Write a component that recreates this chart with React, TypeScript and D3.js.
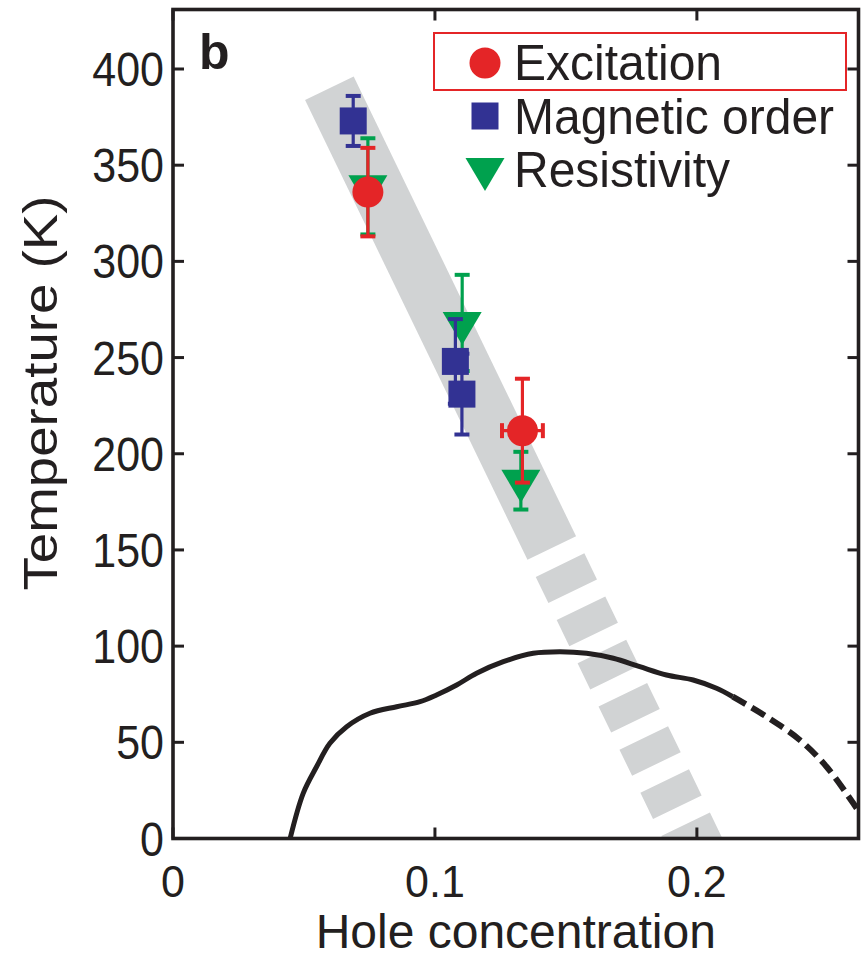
import React from "react";
import * as d3 from "d3";

// ---- data ----
const xTicks = [0, 0.1, 0.2];
const xTickLabels = ["0", "0.1", "0.2"];
const yTicks = [0, 50, 100, 150, 200, 250, 300, 350, 400];

// Magnetic order (blue squares)
const magX = [0.0688, 0.1078, 0.1103];
const magT = [373, 248, 231];
const magErr = [13, 22, 21];

// Resistivity (green triangles)
const resX = [0.0744, 0.1104, 0.1328];
const resT = [339, 268, 186];
const resErr = [25, 25, 15];

// Excitation (red circles)
const excX = [0.0744, 0.1334];
const excT = [336, 212];
const excErr = [23, 27];
const excXErr = [0, 0.0078];

// Tc dome (solid part, then dashed extrapolation)
const domeX = [0.0447, 0.0497, 0.0548, 0.0599, 0.0663, 0.0752, 0.0854, 0.0943, 0.1006, 0.1083, 0.1159, 0.1261, 0.1375, 0.1477, 0.1579, 0.1681, 0.1782, 0.1884, 0.1986, 0.2075, 0.2137];
const domeT = [0, 23.5, 37.3, 49.5, 58.1, 65.1, 68.5, 71.1, 74.6, 79.8, 85.9, 91.9, 96.3, 97.1, 96.3, 93.7, 89.3, 85.0, 82.4, 78.1, 73.7];
const domeDashX = [0.2137, 0.2266, 0.2393, 0.2495, 0.2597, 0.2625];
const domeDashT = [73.7, 63.3, 51.2, 37.3, 18.3, 12.5];

// Grey guide band (solid part, dashed part)
const bandSolidX = [0.0597, 0.1446];
const bandSolidT = [390, 151];
const bandDashX = [0.1446, 0.209];
const bandDashT = [151, -30];

const legendLabels = ["Excitation", "Magnetic order", "Resistivity"];

// ---- style ----
const W = 862;
const H = 959;
const L = 173, R = 858.5, T = 9.5, B = 838.5;
const RED = "#e42527";
const BLUE = "#323293";
const GREEN = "#00a14e";
const GREY = "#d1d3d4";
const INK = "#231f20";
const FONT = "'Liberation Sans', Arial, Helvetica, sans-serif";

export default function App() {
  const x = d3.scaleLinear().domain([0, 0.2617]).range([L, R]);
  const y = d3.scaleLinear().domain([0, 400]).range([B, 69]);

  const line = d3
    .line<[number, number]>()
    .x((d) => x(d[0]))
    .y((d) => y(d[1]));
  const smooth = d3
    .line<[number, number]>()
    .x((d) => x(d[0]))
    .y((d) => y(d[1]))
    .curve(d3.curveCatmullRom.alpha(0.5));

  const zip = (a: number[], b: number[]) => a.map((v, i) => [v, b[i]] as [number, number]);

  const tickLen = 11;
  const capW = 15;

  const errV = (cx: number, cy: number, e: number, color: string, key: string) => {
    const y1 = y(cy + e), y2 = y(cy - e), px = x(cx);
    return (
      <g key={key} stroke={color} strokeWidth={3.2}>
        <line x1={px} x2={px} y1={y1} y2={y2} />
        <line x1={px - capW / 2} x2={px + capW / 2} y1={y1} y2={y1} strokeWidth={4} />
        <line x1={px - capW / 2} x2={px + capW / 2} y1={y2} y2={y2} strokeWidth={4} />
      </g>
    );
  };
  const errH = (cx: number, cy: number, e: number, color: string, key: string) => {
    if (!e) return null;
    const x1 = x(cx - e), x2 = x(cx + e), py = y(cy);
    return (
      <g key={key} stroke={color} strokeWidth={3.2}>
        <line x1={x1} x2={x2} y1={py} y2={py} />
        <line x1={x1} x2={x1} y1={py - capW / 2} y2={py + capW / 2} strokeWidth={4} />
        <line x1={x2} x2={x2} y1={py - capW / 2} y2={py + capW / 2} strokeWidth={4} />
      </g>
    );
  };

  const triW = 39, triH = 33;
  const tri = (px: number, py: number) =>
    `M${px - triW / 2},${py - triH / 3}L${px + triW / 2},${py - triH / 3}L${px},${py + (2 * triH) / 3}Z`;

  const sq = 27;
  const rc = 15.5;

  return (
    <svg
      width={W}
      height={H}
      viewBox={`0 0 ${W} ${H}`}
      style={{ position: "absolute", left: 0, top: 0, background: "#fff" }}
      fontFamily={FONT}
    >
      <defs>
        <clipPath id="plot">
          <rect x={L} y={T} width={R - L} height={B - T} />
        </clipPath>
      </defs>

      <g clipPath="url(#plot)">
        {/* grey band */}
        <path d={line(zip(bandSolidX, bandSolidT)) || ""} stroke={GREY} strokeWidth={54} fill="none" strokeLinecap="butt" />
        <path
          d={line(zip(bandDashX, bandDashT)) || ""}
          stroke={GREY}
          strokeWidth={54}
          fill="none"
          strokeLinecap="butt"
          strokeDasharray="29 19"
          strokeDashoffset={29}
        />
        {/* Tc dome */}
        <path d={smooth(zip(domeX, domeT)) || ""} stroke={INK} strokeWidth={5} fill="none" />
        <path d={smooth(zip(domeDashX, domeDashT)) || ""} stroke={INK} strokeWidth={6} fill="none" strokeDasharray="15 7" />
      </g>

      {/* resistivity */}
      {resX.map((v, i) => errV(v, resT[i], resErr[i], GREEN, "re" + i))}
      {resX.map((v, i) => (
        <path key={"rm" + i} d={tri(x(v), y(resT[i]))} fill={GREEN} />
      ))}
      {/* magnetic order */}
      {magX.map((v, i) => errV(v, magT[i], magErr[i], BLUE, "me" + i))}
      {magX.map((v, i) => (
        <rect key={"mm" + i} x={x(v) - sq / 2} y={y(magT[i]) - sq / 2} width={sq} height={sq} fill={BLUE} />
      ))}
      {/* excitation */}
      {excX.map((v, i) => errV(v, excT[i], excErr[i], RED, "ee" + i))}
      {excX.map((v, i) => errH(v, excT[i], excXErr[i], RED, "eh" + i))}
      {excX.map((v, i) => (
        <circle key={"em" + i} cx={x(v)} cy={y(excT[i])} r={rc} fill={RED} />
      ))}

      {/* frame */}
      <rect x={L} y={T} width={R - L} height={B - T} fill="none" stroke={INK} strokeWidth={3.6} />
      {/* ticks */}
      {yTicks.map((t) => (
        <g key={"yt" + t} stroke={INK} strokeWidth={3}>
          <line x1={L} x2={L + tickLen} y1={y(t)} y2={y(t)} />
          <line x1={R} x2={R - tickLen} y1={y(t)} y2={y(t)} />
        </g>
      ))}
      {xTicks.map((t) => (
        <g key={"xt" + t} stroke={INK} strokeWidth={3}>
          <line x1={x(t)} x2={x(t)} y1={B} y2={B - tickLen} />
          <line x1={x(t)} x2={x(t)} y1={T} y2={T + tickLen} />
        </g>
      ))}
      {/* tick labels */}
      {yTicks.map((t) => (
        <text
          key={"yl" + t}
          transform={`translate(164,${y(t) + 17}) scale(1,1.1)`}
          textAnchor="end"
          fontSize={43}
          fill={INK}
        >
          {t}
        </text>
      ))}
      {xTicks.map((t, i) => (
        <text
          key={"xl" + t}
          transform={`translate(${x(t)},897) scale(1,1.05)`}
          textAnchor="middle"
          fontSize={43}
          fill={INK}
        >
          {xTickLabels[i]}
        </text>
      ))}
      {/* axis titles */}
      <text x={(L + R) / 2} y={948} textAnchor="middle" fontSize={48} fill={INK}>
        Hole concentration
      </text>
      <text
        transform={`translate(57,393) rotate(-90)`}
        textAnchor="middle"
        fontSize={48}
        fill={INK}
        textLength={395}
        lengthAdjust="spacingAndGlyphs"
      >
        Temperature (K)
      </text>

      {/* panel letter */}
      <text x={199} y={69} fontSize={50} fontWeight="bold" fill={INK}>
        b
      </text>

      {/* legend */}
      <rect x={434} y={33} width={412} height={57} fill="none" stroke={RED} strokeWidth={2} />
      <circle cx={485} cy={63} r={rc} fill={RED} />
      <rect x={485 - sq / 2} y={116 - sq / 2} width={sq} height={sq} fill={BLUE} />
      <path d={tri(485, 169)} fill={GREEN} />
      {legendLabels.map((s, i) => (
        <text key={s} transform={`translate(514,${80 + i * 53.5}) scale(1,1.05)`} fontSize={48} fill={INK}>
          {s}
        </text>
      ))}
    </svg>
  );
}
